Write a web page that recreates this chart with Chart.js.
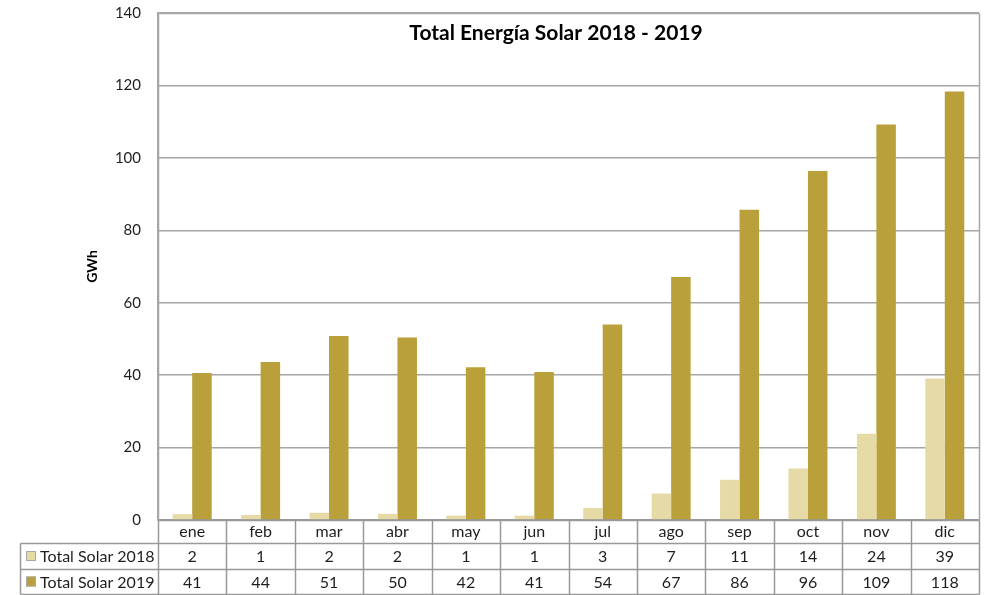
<!DOCTYPE html>
<html>
<head>
<meta charset="utf-8">
<script src="https://cdn.jsdelivr.net/npm/chart.js@4.4.1/dist/chart.umd.min.js"></script>
<style>
  html, body { margin: 0; padding: 0; background: #ffffff; }
  #wrap { width: 985px; height: 595px; position: relative; }
</style>
</head>
<body>
<div id="wrap"><canvas id="c"></canvas></div>
<script>
const months = ['ene','feb','mar','abr','may','jun','jul','ago','sep','oct','nov','dic'];
const solar2018 = [1.6, 1.4, 2.0, 1.7, 1.2, 1.2, 3.3, 7.3, 11.1, 14.2, 23.8, 39.1];
const solar2019 = [40.6, 43.6, 50.8, 50.4, 42.2, 40.9, 54.0, 67.1, 85.7, 96.4, 109.2, 118.3];
const seriesNames = ['Total Solar 2018', 'Total Solar 2019'];
const yMin = 0, yMax = 140, yStep = 20;
const chartTitle = 'Total Energía Solar 2018 - 2019';
const yTitle = 'GWh';

const FONT = 'Lato, "Liberation Sans", sans-serif';
const COL18 = '#E6DAA7';
const COL19 = '#BAA03A';
const GRID = '#A6A6A6';
const TABLE = '#999999';
const TEXT = '#1e1e1e';

const tablePlugin = {
  id: 'dataTable',
  afterDraw(chart) {
    const ctx = chart.ctx;
    const { left, right, top, bottom } = chart.chartArea;
    const xs = chart.scales.x;
    const h1 = bottom + 23, r2 = h1 + 26, r3 = r2 + 25;
    const tableLeft = 20;
    ctx.save();
    ctx.lineWidth = 1.5;
    const line = (x1, y1, x2, y2) => {
      ctx.beginPath();
      ctx.moveTo(Math.round(x1) + 0.5, Math.round(y1) + 0.5);
      ctx.lineTo(Math.round(x2) + 0.5, Math.round(y2) + 0.5);
      ctx.stroke();
    };
    ctx.strokeStyle = GRID;
    line(left, top, right, top);
    line(right, top, right, bottom);
    line(left, top, left, bottom);
    ctx.strokeStyle = TABLE;
    line(right, bottom, right, r3);
    line(left, bottom, left, r3);
    line(left, bottom, right, bottom);
    line(tableLeft, h1, right, h1);
    line(tableLeft, r2, right, r2);
    line(tableLeft, r3, right, r3);
    line(tableLeft, h1, tableLeft, r3);
    for (let i = 1; i < months.length; i++) {
      const xb = (xs.getPixelForValue(i - 1) + xs.getPixelForValue(i)) / 2;
      line(xb, bottom, xb, r3);
    }
    ctx.fillStyle = TEXT;
    ctx.font = '16px ' + FONT;
    ctx.textAlign = 'center';
    ctx.textBaseline = 'middle';
    const rows = [solar2018, solar2019];
    const rowY = [(h1 + r2) / 2 + 1, (r2 + r3) / 2 + 1];
    rows.forEach((vals, ri) => {
      vals.forEach((v, i) => {
        ctx.fillText(String(Math.round(v)), xs.getPixelForValue(i), rowY[ri]);
      });
    });
    const cols = [COL18, COL19];
    ctx.textAlign = 'left';
    ctx.lineWidth = 1;
    seriesNames.forEach((name, ri) => {
      const cy = rowY[ri] - 1;
      ctx.fillStyle = cols[ri];
      ctx.fillRect(26, cy - 5, 10, 10);
      ctx.strokeStyle = '#A8A8A8';
      ctx.strokeRect(26.5, cy - 4.5, 9, 9);
      ctx.fillStyle = TEXT;
      ctx.fillText(name, 40, rowY[ri]);
    });
    ctx.fillStyle = '#000000';
    ctx.font = 'bold 21px ' + FONT;
    ctx.textAlign = 'center';
    ctx.fillText(chartTitle, 556, 33);
    ctx.restore();
  }
};

new Chart(document.getElementById('c'), {
  type: 'bar',
  data: {
    labels: months,
    datasets: [
      { label: seriesNames[0], data: solar2018, backgroundColor: COL18, borderWidth: 0,
        categoryPercentage: 0.57, barPercentage: 1.0 },
      { label: seriesNames[1], data: solar2019, backgroundColor: COL19, borderWidth: 0,
        categoryPercentage: 0.57, barPercentage: 1.0 }
    ]
  },
  options: {
    responsive: true,
    maintainAspectRatio: false,
    animation: false,
    layout: { padding: { left: 80, right: 6, top: 13, bottom: 52 } },
    plugins: {
      legend: { display: false },
      title: { display: false },
      tooltip: { enabled: false }
    },
    scales: {
      x: {
        grid: { display: false, drawTicks: false },
        border: { display: true, color: TABLE, width: 1.5 },
        ticks: { color: TEXT, font: { family: FONT, size: 16 }, padding: 2, maxRotation: 0 },
        afterFit(scale) { scale.height = 23; scale.paddingLeft = 0; scale.paddingRight = 0; }
      },
      y: {
        min: yMin, max: yMax,
        grid: { color: GRID, lineWidth: 1.5, drawTicks: false },
        border: { display: true, color: GRID, width: 1.5 },
        ticks: { stepSize: yStep, color: TEXT, font: { family: FONT, size: 15 }, padding: 17 },
        title: { display: true, text: yTitle, color: '#000', font: { family: FONT, size: 14, weight: 'bold' } },
        afterFit(scale) { scale.width = 78; scale.paddingTop = 0; scale.paddingBottom = 0; }
      }
    }
  },
  plugins: [tablePlugin]
});
</script>
</body>
</html>
